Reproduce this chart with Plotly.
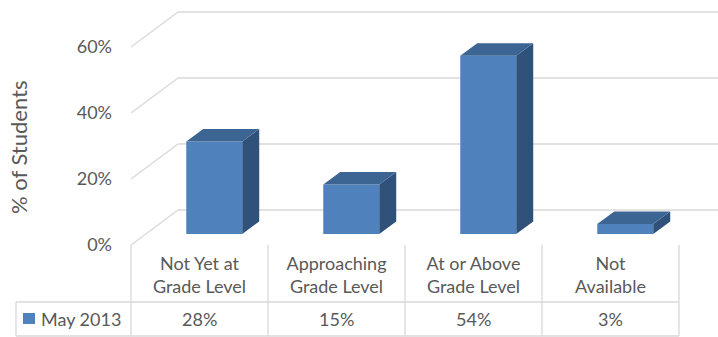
import plotly.graph_objects as go

# ---------------- data ----------------
categories = ["Not Yet at<br>Grade Level", "Approaching<br>Grade Level",
              "At or Above<br>Grade Level", "Not<br>Available"]
values = [28, 15, 54, 3]
series_name = "May 2013"
value_labels = ["28%", "15%", "54%", "3%"]
y_ticks = [0, 20, 40, 60]
y_tick_labels = ["0%", "20%", "40%", "60%"]
y_title = "% of Students"

# ---------------- geometry (pixels -> axis units) ----------------
W, H = 718, 337
X0_PX, CAT_PX = 199.5, 137.0   # first category centre / category width
Y0_PX, PCT_PX = 245.0, 3.3     # 0% line / pixels per percent


def px_x(p):
    return (p - X0_PX) / CAT_PX


def px_y(p):
    return (Y0_PX - p) / PCT_PX


DEPTH_X = 47 / CAT_PX          # full floor depth, x units
DEPTH_Y = 35 / PCT_PX          # full floor depth, y units
BAR_D0, BAR_D1 = 0.314, 0.675  # bar depth start/end (fraction)
BAR_W = 56 / CAT_PX

TEXT = "#595959"
GRID = "#d9d9d9"
FRONT, TOP, SIDE = "#4f81bd", "#3d6594", "#30527a"
FONT = "Lato"
FS = 18

n = len(values)
xs = list(range(n))
bx0, by0 = BAR_D0 * DEPTH_X, BAR_D0 * DEPTH_Y
ddx, ddy = (BAR_D1 - BAR_D0) * DEPTH_X, (BAR_D1 - BAR_D0) * DEPTH_Y

fig = go.Figure()

# front faces (real bar trace)
fig.add_trace(go.Bar(x=[x + bx0 for x in xs], y=values, base=by0, width=BAR_W,
                     marker=dict(color=FRONT, line=dict(width=0)),
                     name=series_name, hoverinfo="skip"))

# side and top faces
sx, sy, tx, ty = [], [], [], []
for x, v in zip(xs, values):
    xl = x + bx0 - BAR_W / 2
    xr = x + bx0 + BAR_W / 2
    top = by0 + v
    sx += [xr, xr, xr + ddx, xr + ddx, xr, None]
    sy += [by0, top, top + ddy, by0 + ddy, by0, None]
    tx += [xl, xr, xr + ddx, xl + ddx, xl, None]
    ty += [top, top, top + ddy, top + ddy, top, None]
fig.add_trace(go.Scatter(x=sx, y=sy, fill="toself", fillcolor=SIDE, mode="lines",
                         line=dict(width=0, color=SIDE), hoverinfo="skip"))
fig.add_trace(go.Scatter(x=tx, y=ty, fill="toself", fillcolor=TOP, mode="lines",
                         line=dict(width=0, color=TOP), hoverinfo="skip"))

shapes = []
# gridlines: side-wall diagonal + back wall
left = -0.5
right = px_x(W + 5)
for t in y_ticks:
    shapes.append(dict(type="line", xref="x", yref="y", layer="below",
                       x0=left, y0=t, x1=left + DEPTH_X, y1=t + DEPTH_Y,
                       line=dict(color=GRID, width=1.3)))
    shapes.append(dict(type="line", xref="x", yref="y", layer="below",
                       x0=left + DEPTH_X, y0=t + DEPTH_Y, x1=right, y1=t + DEPTH_Y,
                       line=dict(color=GRID, width=1.3)))

# data table
row1 = px_y(302)
row2 = px_y(336)
tab_left = px_x(16)
for k in range(n + 1):
    shapes.append(dict(type="line", xref="x", yref="y", layer="below",
                       x0=k - 0.5, x1=k - 0.5, y0=0, y1=row2,
                       line=dict(color=GRID, width=1.3)))
for yy in (row1, row2):
    shapes.append(dict(type="line", xref="x", yref="y", layer="below",
                       x0=tab_left, x1=n - 0.5, y0=yy, y1=yy,
                       line=dict(color=GRID, width=1.3)))
shapes.append(dict(type="line", xref="x", yref="y", layer="below",
                   x0=tab_left, x1=tab_left, y0=row1, y1=row2,
                   line=dict(color=GRID, width=1.3)))
# legend key
shapes.append(dict(type="rect", xref="x", yref="y", layer="above",
                   x0=px_x(23), x1=px_x(35), y0=px_y(324), y1=px_y(313),
                   fillcolor=FRONT, line=dict(width=0)))

annotations = []
rowc = (row1 + row2) / 2
for x, lab in zip(xs, value_labels):
    annotations.append(dict(x=x, y=rowc, xref="x", yref="y", text=lab,
                            showarrow=False, xanchor="center", yanchor="middle",
                            font=dict(family=FONT, size=FS, color=TEXT)))
annotations.append(dict(x=px_x(39), y=rowc, xref="x", yref="y", text=series_name,
                        showarrow=False, xanchor="left", yanchor="middle",
                        font=dict(family=FONT, size=FS, color=TEXT)))
annotations.append(dict(x=px_x(18), y=px_y(147), xref="x", yref="y", text=y_title,
                        textangle=-90, showarrow=False, xanchor="center", yanchor="middle",
                        font=dict(family=FONT, size=22, color=TEXT)))

fig.update_layout(
    width=W, height=H, margin=dict(l=0, r=0, t=0, b=0),
    paper_bgcolor="white", plot_bgcolor="white", showlegend=False,
    shapes=shapes, annotations=annotations,
    font=dict(family=FONT, size=FS, color=TEXT),
    xaxis=dict(range=[px_x(0), px_x(W)], tickvals=xs, ticktext=categories,
               showgrid=False, zeroline=False, showline=False, ticks="",
               anchor="free", position=(H - Y0_PX) / H, ticklabelstandoff=6,
               tickfont=dict(family=FONT, size=FS, color=TEXT), fixedrange=True),
    yaxis=dict(range=[px_y(H), px_y(0)], tickvals=y_ticks, ticktext=y_tick_labels,
               showgrid=False, zeroline=False, showline=False, ticks="",
               anchor="free", position=131 / W, ticklabelstandoff=19,
               tickfont=dict(family=FONT, size=FS, color=TEXT), fixedrange=True),
)

fig.write_html("out.html")
